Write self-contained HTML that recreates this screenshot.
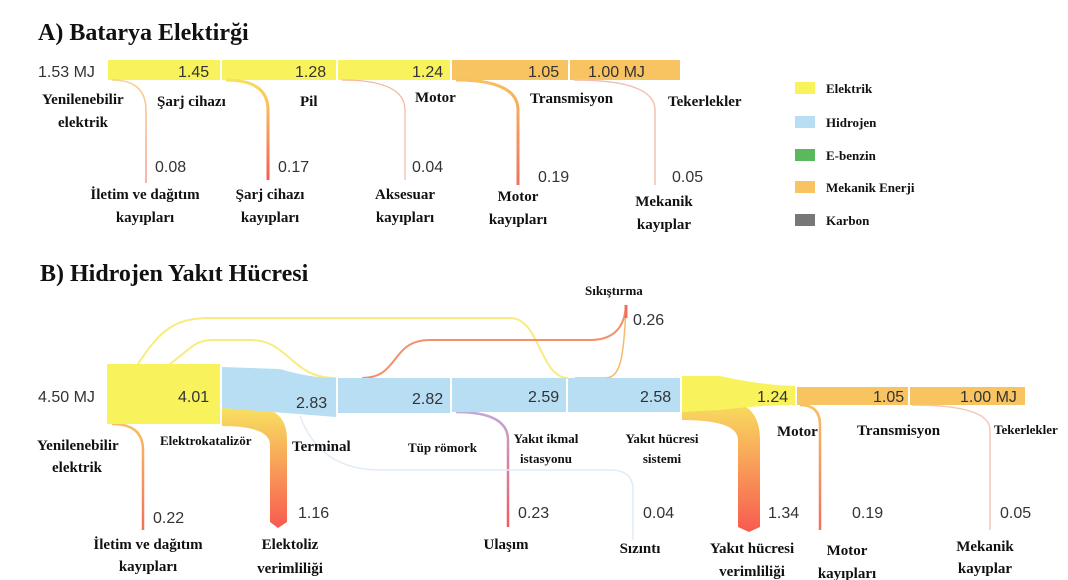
<!DOCTYPE html>
<html><head><meta charset="utf-8"><style>
body{margin:0;background:#fff}
svg{display:block}
.t{font-family:"Liberation Serif",serif;font-weight:bold;fill:#111}
.v{font-family:"Liberation Sans",sans-serif;font-size:16px;fill:#333}
.l{font-family:"Liberation Serif",serif;font-weight:bold;font-size:15px;fill:#111}
.s{font-family:"Liberation Serif",serif;font-weight:bold;font-size:13px;fill:#111}
</style></head><body>
<svg width="1068" height="580" viewBox="0 0 1068 580" xmlns="http://www.w3.org/2000/svg">
<defs>
<linearGradient id="yr" x1="0" y1="0" x2="0" y2="1"><stop offset="0" stop-color="#f8e060"/><stop offset="1" stop-color="#f85a50"/></linearGradient>
<linearGradient id="or" x1="0" y1="0" x2="0" y2="1"><stop offset="0" stop-color="#f8c060"/><stop offset="1" stop-color="#f07060"/></linearGradient>
<linearGradient id="pr" x1="0" y1="0" x2="0" y2="1"><stop offset="0" stop-color="#c0a8d8"/><stop offset="1" stop-color="#f05a60"/></linearGradient>
</defs>
<!-- A -->
<text x="38" y="40" class="t" font-size="24">A) Batarya Elektirği</text>
<rect x="108" y="60" width="112" height="20" fill="#f8f35c"/>
<rect x="222" y="60" width="114" height="20" fill="#f8f35c"/>
<rect x="338" y="60" width="112" height="20" fill="#f8f35c"/>
<rect x="452" y="60" width="116" height="20" fill="#f8c462"/>
<rect x="570" y="60" width="110" height="20" fill="#f8c462"/>
<g fill="none" stroke-linecap="butt">
<path d="M112 80 Q146 80 146 110 L146 183" stroke="url(#or)" stroke-width="1.5" opacity=".7"/>
<path d="M226 80 Q268 80 268 110 L268 180" stroke="url(#yr)" stroke-width="3"/>
<path d="M342 80 Q405 80 405 110 L405 180" stroke="#f4b8a0" stroke-width="1.2"/>
<path d="M456 80 Q518 80 518 110 L518 185" stroke="url(#or)" stroke-width="3"/>
<path d="M574 80 Q655 80 655 110 L655 185" stroke="#f4c0b0" stroke-width="1.5"/>
</g>
<text x="38" y="77" class="v">1.53 MJ</text>
<text x="178" y="77" class="v">1.45</text>
<text x="295" y="77" class="v">1.28</text>
<text x="412" y="77" class="v">1.24</text>
<text x="528" y="77" class="v">1.05</text>
<text x="588" y="77" class="v">1.00 MJ</text>
<text x="42" y="104" class="l">Yenilenebilir</text><text x="58" y="127" class="l">elektrik</text>
<text x="157" y="106" class="l">Şarj cihazı</text>
<text x="300" y="106" class="l">Pil</text>
<text x="415" y="102" class="l">Motor</text>
<text x="530" y="103" class="l">Transmisyon</text>
<text x="668" y="106" class="l">Tekerlekler</text>
<text x="155" y="172" class="v">0.08</text>
<text x="278" y="172" class="v">0.17</text>
<text x="412" y="172" class="v">0.04</text>
<text x="538" y="182" class="v">0.19</text>
<text x="672" y="182" class="v">0.05</text>
<g class="l" text-anchor="middle">
<text x="145" y="199">İletim ve dağıtım</text><text x="145" y="222">kayıpları</text>
<text x="270" y="199">Şarj cihazı</text><text x="270" y="222">kayıpları</text>
<text x="405" y="199">Aksesuar</text><text x="405" y="222">kayıpları</text>
<text x="518" y="201">Motor</text><text x="518" y="224">kayıpları</text>
<text x="664" y="206">Mekanik</text><text x="664" y="229">kayıplar</text>
</g>
<!-- legend -->
<rect x="795" y="82" width="20" height="12" fill="#f8f35c"/><text x="826" y="93" class="s">Elektrik</text>
<rect x="795" y="116" width="20" height="12" fill="#b8def4"/><text x="826" y="127" class="s">Hidrojen</text>
<rect x="795" y="149" width="20" height="12" fill="#5cb85c"/><text x="826" y="160" class="s">E-benzin</text>
<rect x="795" y="181" width="20" height="12" fill="#f8c462"/><text x="826" y="192" class="s">Mekanik Enerji</text>
<rect x="795" y="214" width="20" height="12" fill="#777"/><text x="826" y="225" class="s">Karbon</text>
<!-- B -->
<text x="40" y="281" class="t" font-size="24">B) Hidrojen  Yakıt Hücresi</text>
<g fill="none">
<path d="M138 364 C160 330 175 318 210 318 L510 318 C540 318 540 378 568 378" stroke="#f8ec80" stroke-width="2"/>
<path d="M170 364 C195 345 195 340 215 340 L250 340 C290 340 290 378 336 378" stroke="#f8ec80" stroke-width="2"/>
<path d="M362 378 C400 378 390 340 430 340 L590 340 C620 340 625 320 626 305" stroke="#f4906a" stroke-width="2"/>
<path d="M575 378 L605 378 C620 378 624 360 626 305" stroke="#f8b870" stroke-width="1.5"/>
<path d="M626 305 L626 318" stroke="#f07060" stroke-width="3"/>
<path d="M112 424 Q143 424 143 450 L143 530" stroke="url(#or)" stroke-width="2.5"/>
<path d="M456 412 Q508 412 508 440 L508 527" stroke="url(#pr)" stroke-width="2.5"/>
<path d="M300 416 Q320 470 380 470 L610 470 Q633 470 633 490 L633 540" stroke="#e0ecf8" stroke-width="1.5"/>
<path d="M800 405 Q820 405 820 425 L820 530" stroke="url(#or)" stroke-width="2.5"/>
<path d="M912 405 Q990 405 990 430 L990 530" stroke="#f4c8b8" stroke-width="1.5"/>
</g>
<path d="M222 408 L255 408 Q287 408 287 440 L287 522 L278 528 L270 522 L270 445 Q270 426 222 426 Z" fill="url(#yr)"/>
<path d="M682 400 L720 400 Q760 400 760 440 L760 527 L749 532 L738 527 L738 440 Q738 420 682 420 Z" fill="url(#yr)"/>
<rect x="107" y="364" width="113" height="60" fill="#f8f35c"/>
<path d="M222 367 L280 369 Q310 378 336 378 L336 417 L222 408 Z" fill="#b8def4"/>
<rect x="338" y="378" width="112" height="35" fill="#b8def4"/>
<rect x="452" y="378" width="114" height="34" fill="#b8def4"/>
<rect x="568" y="378" width="112" height="34" fill="#b8def4"/>
<path d="M682 376 L720 376 Q760 385 795 386 L795 405 Q760 405 720 410 L682 412 Z" fill="#f8f35c"/>
<rect x="797" y="387" width="111" height="18" fill="#f8c462"/>
<rect x="910" y="387" width="115" height="18" fill="#f8c462"/>
<text x="38" y="402" class="v">4.50 MJ</text>
<text x="178" y="402" class="v">4.01</text>
<text x="296" y="408" class="v">2.83</text>
<text x="412" y="404" class="v">2.82</text>
<text x="528" y="402" class="v">2.59</text>
<text x="640" y="402" class="v">2.58</text>
<text x="757" y="402" class="v">1.24</text>
<text x="873" y="402" class="v">1.05</text>
<text x="960" y="402" class="v">1.00 MJ</text>
<text x="585" y="295" class="s" font-size="14">Sıkıştırma</text>
<text x="633" y="325" class="v">0.26</text>
<text x="37" y="450" class="l">Yenilenebilir</text><text x="52" y="472" class="l">elektrik</text>
<text x="160" y="445" class="s">Elektrokatalizör</text>
<text x="292" y="451" class="l">Terminal</text>
<text x="408" y="452" class="s">Tüp römork</text>
<text x="546" y="443" class="s" font-size="12" text-anchor="middle">Yakıt ikmal</text><text x="546" y="463" class="s" font-size="12" text-anchor="middle">istasyonu</text>
<text x="662" y="443" class="s" font-size="12" text-anchor="middle">Yakıt hücresi</text><text x="662" y="463" class="s" font-size="12" text-anchor="middle">sistemi</text>
<text x="777" y="436" class="l">Motor</text>
<text x="857" y="435" class="l">Transmisyon</text>
<text x="994" y="434" class="s">Tekerlekler</text>
<text x="153" y="523" class="v">0.22</text>
<text x="298" y="518" class="v">1.16</text>
<text x="518" y="518" class="v">0.23</text>
<text x="643" y="518" class="v">0.04</text>
<text x="768" y="518" class="v">1.34</text>
<text x="852" y="518" class="v">0.19</text>
<text x="1000" y="518" class="v">0.05</text>
<g class="l" text-anchor="middle">
<text x="148" y="549">İletim ve dağıtım</text><text x="148" y="571">kayıpları</text>
<text x="290" y="549">Elektoliz</text><text x="290" y="573">verimliliği</text>
<text x="506" y="549">Ulaşım</text>
<text x="640" y="553">Sızıntı</text>
<text x="752" y="553">Yakıt hücresi</text><text x="752" y="576">verimliliği</text>
<text x="847" y="555">Motor</text><text x="847" y="578">kayıpları</text>
<text x="985" y="551">Mekanik</text><text x="985" y="573">kayıplar</text>
</g>
</svg>
</body></html>
